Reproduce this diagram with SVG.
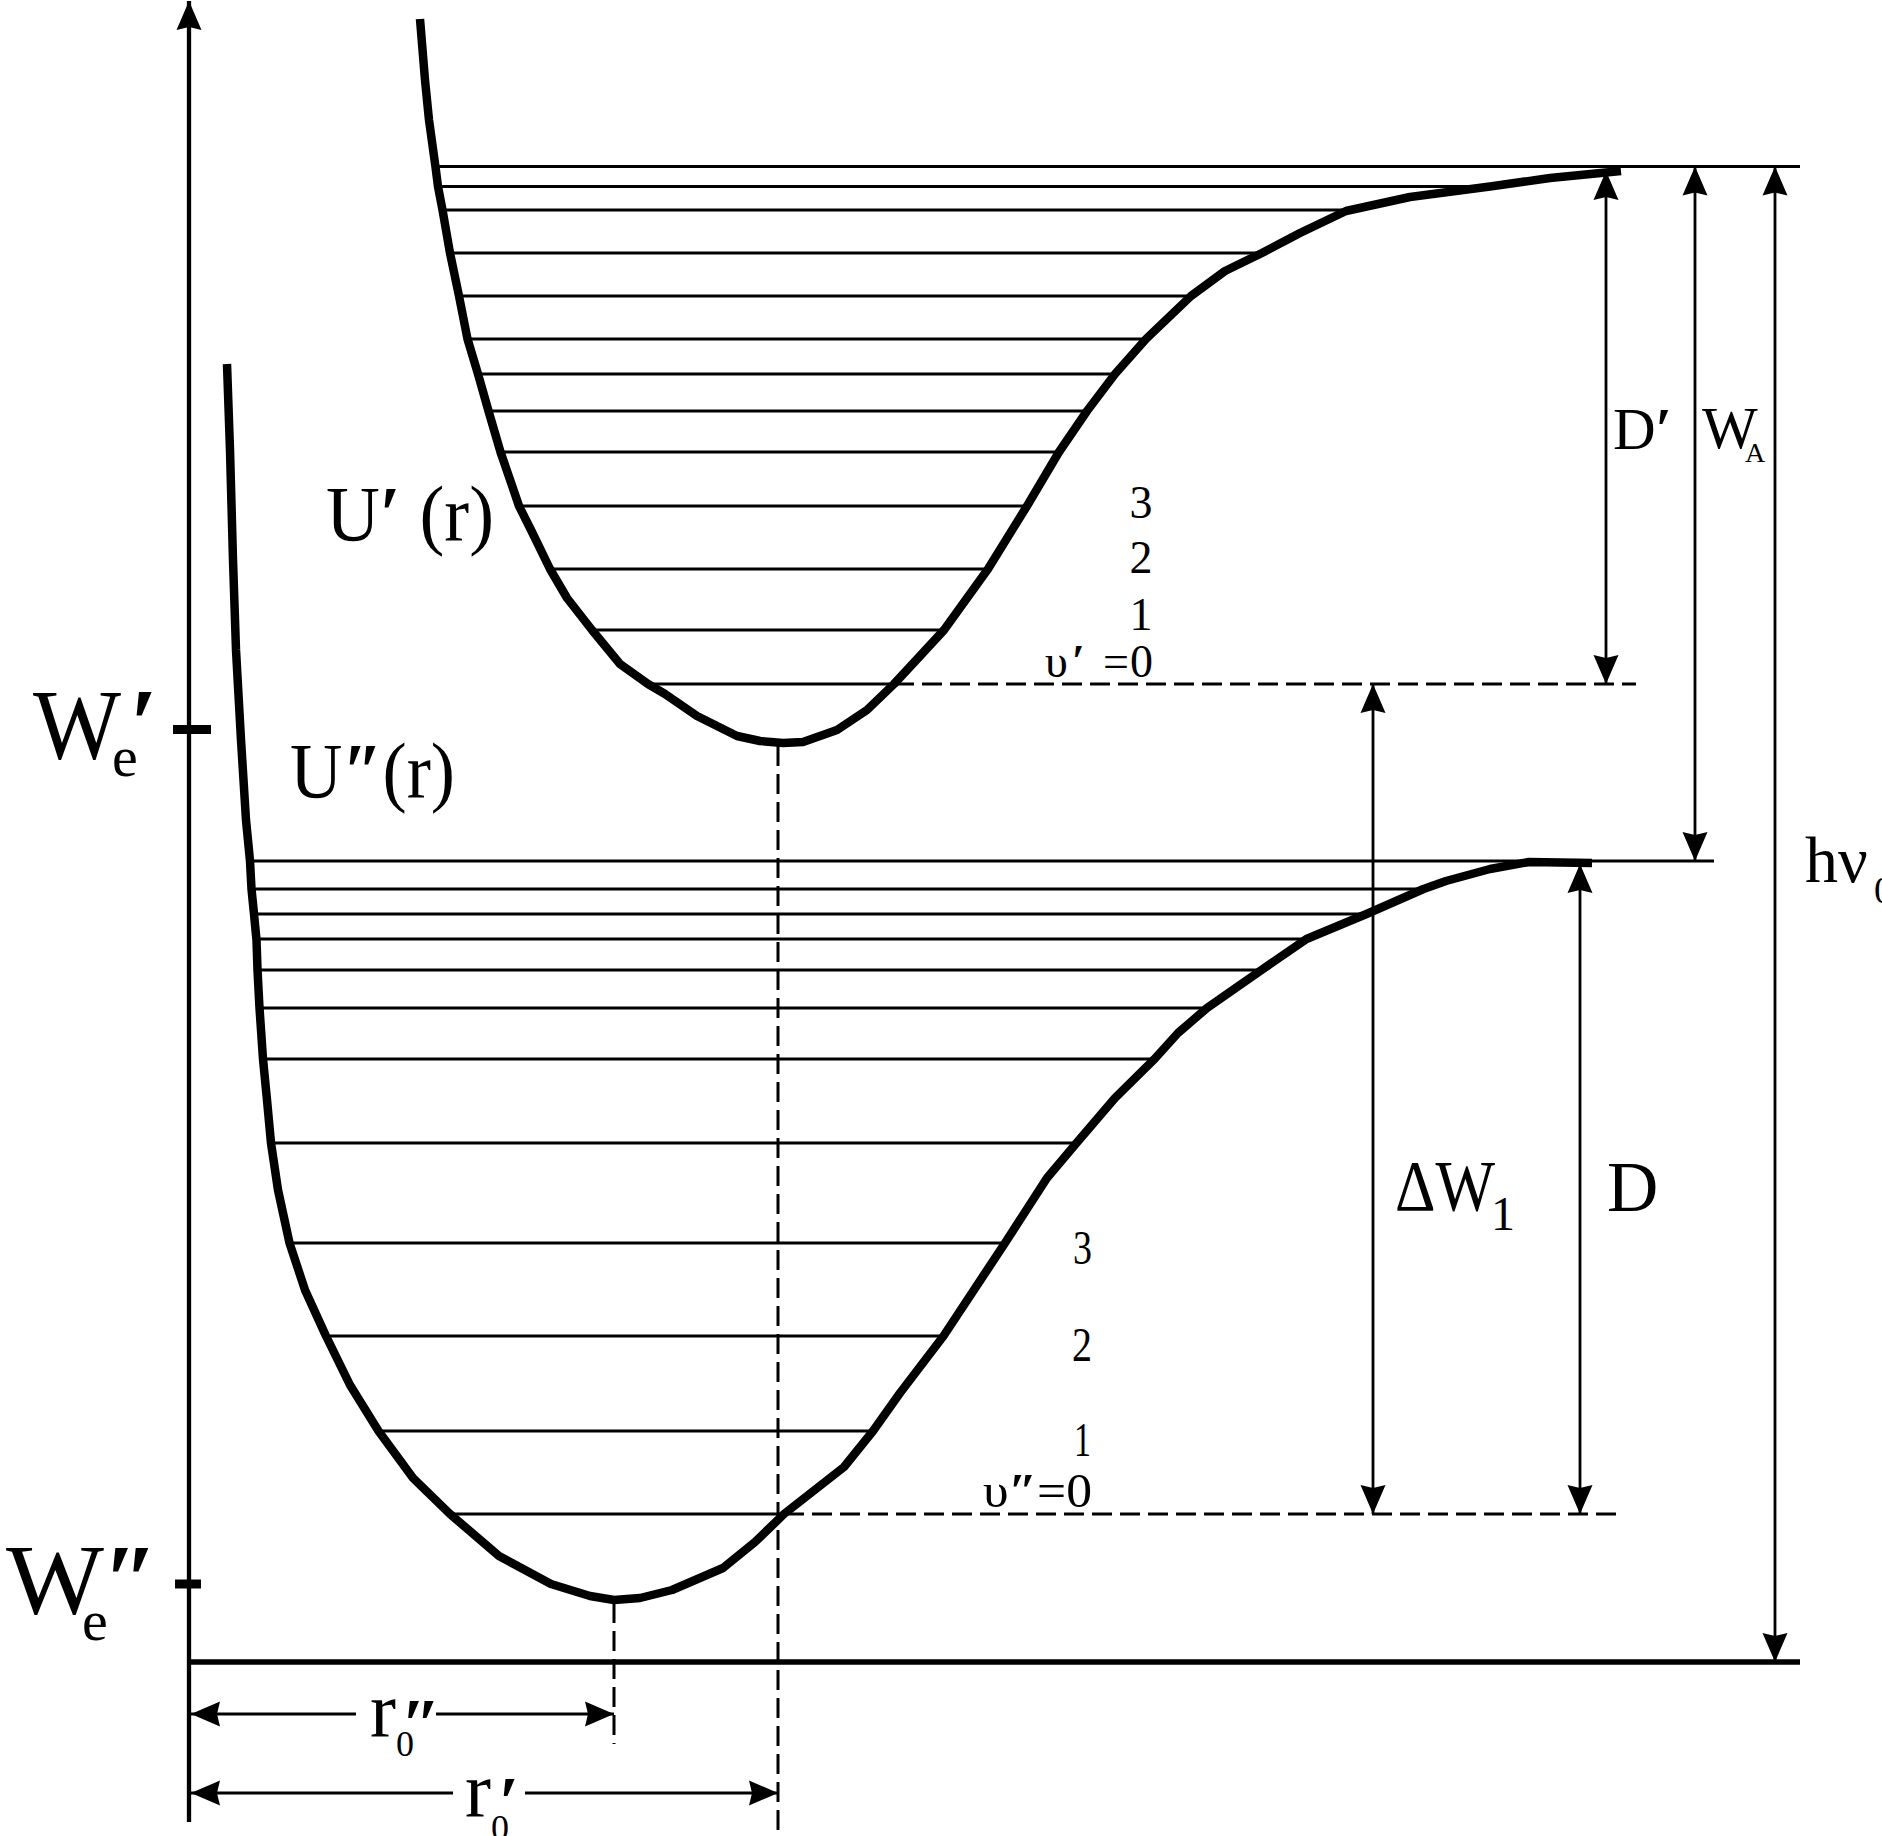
<svg xmlns="http://www.w3.org/2000/svg" width="1882" height="1836" viewBox="0 0 1882 1836">
<defs>
<marker id="ah" markerUnits="userSpaceOnUse" markerWidth="30" markerHeight="26" viewBox="0 0 30 26" refX="29" refY="13" orient="auto-start-reverse">
<path d="M0,0.5 L29,13 L0,25.5 L3,13 z" fill="#000"/>
</marker>
</defs>
<style>
.curve{fill:none;stroke:#000;stroke-width:8.5;stroke-linejoin:round;stroke-linecap:butt}
.lvl{stroke:#000;stroke-width:2.8;fill:none}
.dash{stroke:#000;stroke-width:3;stroke-dasharray:20 8;fill:none}
.arr{stroke:#000;stroke-width:2.8;fill:none;marker-start:url(#ah);marker-end:url(#ah)}
.ax{stroke:#000;stroke-width:4.3;fill:none}
text{font-family:"Liberation Serif","Times New Roman",serif;fill:#000}
.pr{font-weight:bold}
</style>
<rect width="1882" height="1836" fill="#fff"/>

<g id="axes">
<line class="ax" x1="189" y1="1822" x2="189" y2="1" marker-end="url(#ah)"/>
<line x1="187" y1="1662" x2="1800" y2="1662" stroke="#000" stroke-width="5.5"/>
<line x1="173" y1="729.5" x2="211" y2="729.5" stroke="#000" stroke-width="9"/>
<line x1="175" y1="1584" x2="201" y2="1584" stroke="#000" stroke-width="9"/>
</g>

<g id="upper-levels">
<path class="lvl" d="M435.5,166.5H1800 M438,186.5H1490 M442.5,210H1346 M450,253H1262 M459,296H1191 M467.5,339H1146 M478,374H1115 M488.5,411H1087 M500.5,452H1059 M519,506H1027 M550,569H988 M592,630H944 M648,684H894"/>
</g>
<g id="lower-levels">
<path class="lvl" d="M250,861H1714 M251.5,889H1423.5 M254,914H1366.5 M256.5,939H1306.5 M257.5,970H1261.5 M259.5,1008H1207 M263,1059H1154.5 M271,1143H1076.5 M289.5,1243H1005 M325.5,1336H943.5 M378.5,1431H873 M450,1514H784"/>
</g>

<g id="upper-curve">
<path class="curve" d="M420,19 L425,80 L429,120 L435.5,167 L438,186.5 L442.5,210 L450,253 L459,296 L467.5,339 L478,374 L488.5,411 L500.5,452 L519,506 L532,532 L550,569 L567,598 L592,630 L620,664 L648,684 L665,694 L697,716 L737,736 L760,741 L783,743 L803,742 L837,730 L867,710 L894,684 L920,656 L944,630 L988,569 L1027,506 L1059,452 L1087,411 L1115,374 L1146,339 L1191,296 L1225,271 L1262,253 L1300,233 L1346,211 L1410,197 L1490,186.5 L1550,178 L1621,171"/>
</g>
<g id="lower-curve">
<path class="curve" d="M227,364 L230,450 L233,560 L236,650 L241,740 L246,820 L250,861 L251.5,889 L254,914 L256.5,940 L257.5,970 L259.5,1008 L263,1059 L267,1100 L271,1143 L278,1190 L289.5,1243 L305,1290 L325.5,1335 L350,1385 L378.5,1431 L413,1478 L450,1514 L499,1556 L551,1584 L590,1596 L614,1600 L640,1598 L672,1590 L723,1568 L755,1542 L784,1514 L844,1467 L873,1431 L900,1393 L943.5,1336 L1005,1243 L1047,1178 L1076.5,1143 L1115,1098 L1154.5,1059 L1178,1033 L1207,1008 L1261.5,970 L1306.5,939 L1366.5,914 L1423.5,889 L1446,881 L1490,869 L1529,862 L1592,863"/>
</g>

<g id="connectors">
<line class="dash" x1="894" y1="684" x2="1636" y2="684"/>
<line class="dash" x1="784" y1="1514" x2="1620" y2="1514"/>
<line class="dash" x1="778" y1="746" x2="778" y2="1836"/>
<line class="dash" x1="614" y1="1603" x2="614" y2="1744"/>
<line class="arr" x1="1606" y1="171" x2="1606" y2="684"/>
<line class="arr" x1="1695" y1="166.5" x2="1695" y2="861"/>
<line class="arr" x1="1775" y1="166.5" x2="1775" y2="1662"/>
<line class="arr" x1="1373" y1="684" x2="1373" y2="1514"/>
<line class="arr" x1="1580" y1="864" x2="1580" y2="1514"/>
<line class="lvl" x1="191" y1="1714" x2="356" y2="1714" marker-start="url(#ah)"/>
<line class="lvl" x1="436" y1="1714" x2="614" y2="1714" marker-end="url(#ah)"/>
<line class="lvl" x1="191" y1="1793" x2="453" y2="1793" marker-start="url(#ah)"/>
<line class="lvl" x1="525" y1="1793" x2="778" y2="1793" marker-end="url(#ah)"/>
</g>

<g id="labels">
<text x="326" y="540" font-size="78" textLength="168" lengthAdjust="spacingAndGlyphs">U<tspan class="pr">′</tspan> (r)</text>
<text x="290" y="797" font-size="78" textLength="165" lengthAdjust="spacingAndGlyphs">U<tspan class="pr">″</tspan>(r)</text>
<g id="We1">
<text x="33" y="758" font-size="100" textLength="88" lengthAdjust="spacingAndGlyphs">W</text>
<text x="112" y="776" font-size="58">e</text>
<text class="pr" x="130" y="757" font-size="100">′</text>
</g>
<g id="We2">
<text x="6" y="1613" font-size="100" textLength="98" lengthAdjust="spacingAndGlyphs">W</text>
<text x="82" y="1640" font-size="58">e</text>
<text class="pr" x="103" y="1613" font-size="100">″</text>
</g>
<text x="1613" y="449" font-size="59">D<tspan class="pr">′</tspan></text>
<text x="1702" y="448" font-size="59">W</text>
<text x="1745" y="462" font-size="28">A</text>
<text x="1395" y="1210" font-size="71" textLength="100" lengthAdjust="spacingAndGlyphs">ΔW</text>
<text x="1491" y="1230" font-size="48">1</text>
<text x="1607" y="1211" font-size="71">D</text>
<text x="1805" y="882" font-size="66">hν</text>
<text x="1874" y="903" font-size="38">0</text>
<g id="upper-numbers" font-size="46" text-anchor="middle">
<text x="1141" y="518">3</text>
<text x="1141" y="573">2</text>
<text x="1141" y="630">1</text>
</g>
<text x="1045 1072 1103 1130" y="677" font-size="46">υ<tspan class="pr">′</tspan>=0</text>
<g id="lower-numbers" font-size="49">
<text x="1073" y="1264" textLength="19" lengthAdjust="spacingAndGlyphs">3</text>
<text x="1072" y="1361" textLength="20" lengthAdjust="spacingAndGlyphs">2</text>
<text x="1074" y="1456" textLength="17" lengthAdjust="spacingAndGlyphs">1</text>
</g>
<text x="983" y="1507" font-size="49" textLength="109" lengthAdjust="spacingAndGlyphs">υ<tspan class="pr">″</tspan>=0</text>
<text x="370" y="1736" font-size="78">r</text>
<text x="396" y="1756" font-size="36">0</text>
<text class="pr" x="401" y="1748" font-size="72">″</text>
<text x="465" y="1816" font-size="78">r</text>
<text x="491" y="1840" font-size="36">0</text>
<text class="pr" x="499" y="1826" font-size="72">′</text>
</g>
</svg>
